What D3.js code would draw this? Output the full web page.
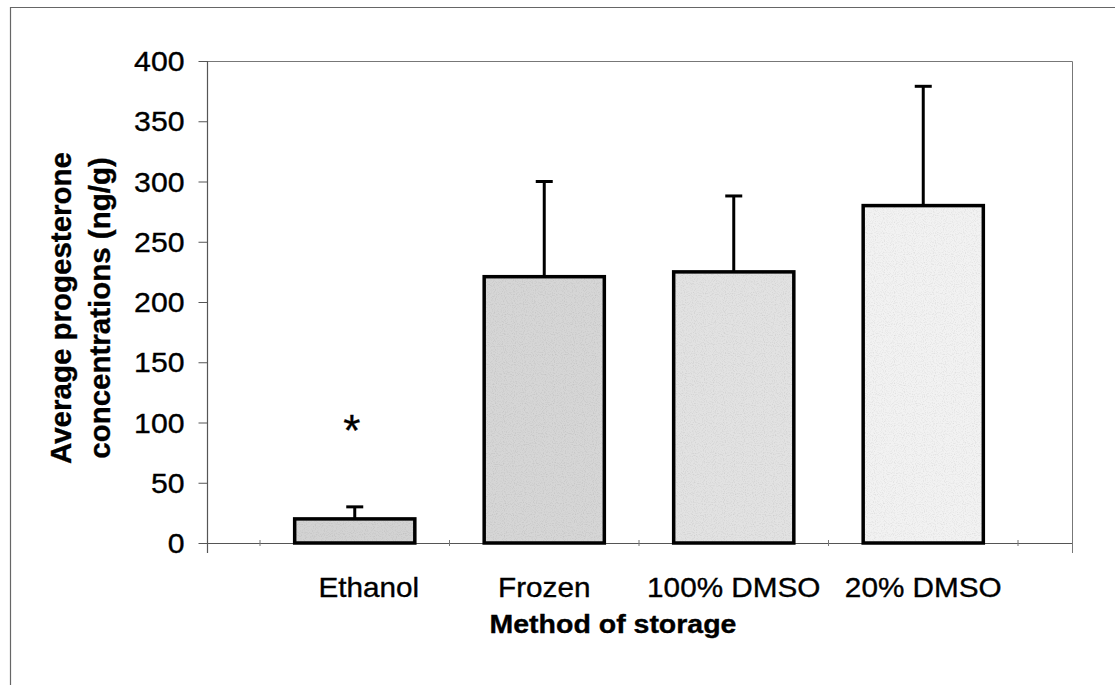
<!DOCTYPE html>
<html>
<head>
<meta charset="utf-8">
<script src="https://cdn.jsdelivr.net/npm/d3@7"></script>
<style>
  html, body { margin: 0; padding: 0; background: #fff; }
  svg { display: block; font-family: Arial, "Liberation Sans", sans-serif; }
  text { stroke: #000; stroke-width: 0.35px; }
</style>
</head>
<body>
<svg id="chart" width="1115" height="685"></svg>
<script>
// ---- data ----
const categories = ["Ethanol", "Frozen", "100% DMSO", "20% DMSO"];
const means = [20, 221, 225, 280];
const errorTops = [30, 300, 288, 379];
const yTicks = [0, 50, 100, 150, 200, 250, 300, 350, 400];
const significant = ["Ethanol"];
const barFills = ["#d3d3d3", "#d6d6d6", "#e2e2e2", "#f2f2f2"];

const yTitleLines = ["Average progesterone", "concentrations (ng/g)"];
const xTitle = "Method of storage";

// ---- layout ----
const svg = d3.select("#chart");
const plot = { left: 207, right: 1072, top: 61, bottom: 543 };
const stretch = 1.12;

// outer frame (partially visible)
svg.append("path")
  .attr("d", "M10.5,685 L10.5,7.5 L1115,7.5")
  .attr("fill", "none").attr("stroke", "#666").attr("stroke-width", 1.2);

const y = d3.scaleLinear().domain([0, 400]).range([plot.bottom, plot.top]);
const x = d3.scaleBand().domain(categories)
  .range([260, 1018]).paddingInner(0.366).paddingOuter(0.183);

// noise texture filter
const defs = svg.append("defs");
const f = defs.append("filter").attr("id", "grain").attr("x", 0).attr("y", 0).attr("width", 1).attr("height", 1);
f.append("feTurbulence").attr("type", "fractalNoise").attr("baseFrequency", 0.9).attr("numOctaves", 1).attr("seed", 3).attr("result", "noise");
f.append("feColorMatrix").attr("in", "noise").attr("type", "matrix")
  .attr("values", "0 0 0 0 0  0 0 0 0 0  0 0 0 0 0  0 0 0 -1.6 0.85").attr("result", "dots");
f.append("feComposite").attr("in", "dots").attr("in2", "SourceGraphic").attr("operator", "in").attr("result", "dots2");
f.append("feComponentTransfer").attr("in", "dots2").attr("result", "dots3")
  .append("feFuncA").attr("type", "linear").attr("slope", 0.3);
const fm = f.append("feMerge");
fm.append("feMergeNode").attr("in", "SourceGraphic");
fm.append("feMergeNode").attr("in", "dots3");

// plot area border (top & right)
svg.append("path")
  .attr("d", `M${plot.left},${plot.top + 0.5} L${plot.right + 0.5},${plot.top + 0.5} L${plot.right + 0.5},${plot.bottom + 10}`)
  .attr("fill", "none").attr("stroke", "#777").attr("stroke-width", 1);

// y axis
const yAxis = d3.axisLeft(y).tickValues(yTicks).tickSize(9).tickPadding(14).tickFormat(d3.format("d"));
const gy = svg.append("g").attr("transform", `translate(${plot.left + 0.5},0)`).call(yAxis);
gy.select(".domain").remove();
gy.selectAll(".tick line").attr("stroke", "#555");
gy.selectAll(".tick text")
  .attr("font-size", 27).attr("fill", "#000").attr("dy", "0.36em")
  .attr("transform", function() { const xx = +d3.select(this).attr("x"); return `translate(${xx*(1-stretch)},0) scale(${stretch},1)`; });
svg.append("line").attr("x1", plot.left + 0.5).attr("x2", plot.left + 0.5)
  .attr("y1", plot.top).attr("y2", plot.bottom + 10).attr("stroke", "#555").attr("stroke-width", 1.2);

// x axis line
svg.append("line").attr("x1", plot.left).attr("x2", plot.right)
  .attr("y1", plot.bottom + 0.5).attr("y2", plot.bottom + 0.5).attr("stroke", "#555").attr("stroke-width", 1.2);
// category boundary ticks
const step = x.step();
const bounds = categories.map(c => x(c) + x.bandwidth() / 2 - step / 2).concat([x(categories[categories.length - 1]) + x.bandwidth() / 2 + step / 2]);
svg.selectAll(".xtick").data(bounds).join("line")
  .attr("x1", d => d).attr("x2", d => d)
  .attr("y1", plot.bottom - 3).attr("y2", plot.bottom + 3)
  .attr("stroke", "#777").attr("stroke-width", 1);

// bars
const bars = categories.map((c, i) => ({ c, v: means[i], e: errorTops[i], fill: barFills[i] }));
svg.selectAll(".err").data(bars).join("line")
  .attr("x1", d => x(d.c) + x.bandwidth() / 2).attr("x2", d => x(d.c) + x.bandwidth() / 2)
  .attr("y1", d => y(d.e)).attr("y2", d => y(d.v))
  .attr("stroke", "#000").attr("stroke-width", 3);
svg.selectAll(".cap").data(bars).join("line")
  .attr("x1", d => x(d.c) + x.bandwidth() / 2 - 8.5).attr("x2", d => x(d.c) + x.bandwidth() / 2 + 8.5)
  .attr("y1", d => y(d.e)).attr("y2", d => y(d.e))
  .attr("stroke", "#000").attr("stroke-width", 3);
svg.selectAll(".bar").data(bars).join("rect")
  .attr("x", d => x(d.c)).attr("width", x.bandwidth())
  .attr("y", d => y(d.v)).attr("height", d => y(0) - y(d.v))
  .attr("fill", d => d.fill).attr("filter", "url(#grain)");
svg.selectAll(".barOutline").data(bars).join("rect")
  .attr("x", d => x(d.c)).attr("width", x.bandwidth())
  .attr("y", d => y(d.v)).attr("height", d => y(0) - y(d.v))
  .attr("fill", "none").attr("stroke", "#000").attr("stroke-width", 3.5);

// significance marker
svg.selectAll(".sig").data(bars.filter(d => significant.includes(d.c))).join("text")
  .attr("x", d => x(d.c) + x.bandwidth() / 2 - 3).attr("y", 446)
  .attr("text-anchor", "middle").attr("font-size", 44).attr("fill", "#000")
  .text("*");

// category labels
svg.selectAll(".xlab").data(categories).join("text")
  .attr("text-anchor", "middle").attr("font-size", 27).attr("fill", "#000")
  .attr("transform", d => `translate(${x(d) + x.bandwidth() / 2 + (d === "Ethanol" ? 14 : 0)},597) scale(1.1,1)`)
  .text(d => d);

// x title
svg.append("text").attr("text-anchor", "middle").attr("font-size", 25).attr("font-weight", "bold").attr("fill", "#000")
  .attr("transform", `translate(613,633) scale(1.14,1)`).text(xTitle);

// y title
const yCenter = (plot.top + plot.bottom) / 2;
svg.selectAll(".ytitle").data(yTitleLines).join("text")
  .attr("text-anchor", "middle").attr("font-size", 29.5).attr("font-weight", "bold").attr("fill", "#000")
  .attr("transform", (d, i) => `translate(${71 + i * 39},${yCenter + 6}) rotate(-90)`)
  .text(d => d);
</script>
</body>
</html>
